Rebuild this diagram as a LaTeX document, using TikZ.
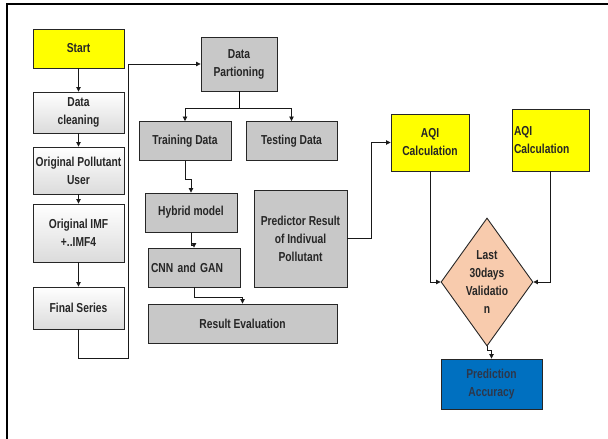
\documentclass[tikz,border=0pt]{standalone}
\usepackage{fontspec}
\setmainfont[FakeStretch=0.79]{Liberation Sans}
\usetikzlibrary{arrows.meta,shapes.geometric,calc}
\definecolor{startyellow}{RGB}{255,255,0}
\definecolor{midgray}{RGB}{200,200,200}
\definecolor{peach}{RGB}{248,203,173}
\definecolor{accblue}{RGB}{0,112,192}
\definecolor{acctext}{RGB}{45,55,75}
\tikzset{
  box/.style={draw=black!85, line width=0.9pt, inner sep=2pt, align=center,
    text=black!85, font=\bfseries\fontsize{13}{18}\selectfont},
  startbox/.style={box, fill=startyellow, minimum width=91, minimum height=39},
  leftbox/.style={box, top color=white, bottom color=black!14, minimum width=91},
  midbox/.style={box, fill=midgray, minimum height=39},
  aqibox/.style={box, fill=startyellow},
  decide/.style={diamond, draw=black!85, line width=0.9pt, fill=peach, inner sep=0pt,
    minimum width=92, minimum height=128},
  accbox/.style={box, fill=accblue, text=acctext, minimum width=101, minimum height=50},
  conn/.style={draw=black!90, line width=0.8pt, -{Triangle[length=4.5pt,width=4.5pt]}}
}
\begin{document}
\begin{tikzpicture}[x=1pt,y=-1pt]
    \useasboundingbox (0,0) rectangle (608,439);
    % frame
    \draw[line width=1.6pt] (7,439) -- (7,4) -- (608,4);
    % left column
    \node[startbox] (start) at (78.5,48.5) {Start};
    \node[leftbox, minimum height=41] (clean) at (78.5,112.5) {Data\\cleaning};
    \node[leftbox, minimum height=47] (pollut) at (78.5,170.5) {Original Pollutant\\User};
    \node[leftbox, minimum height=58] (imf) at (78.5,233) {Original IMF\\+..IMF4};
    \node[leftbox, minimum height=42] (final) at (78.5,308) {Final Series};
    % middle column
    \node[midbox, minimum width=76, minimum height=54] (part) at (239,64) {Data\\Partioning};
    \node[midbox, minimum width=92] (train) at (185,141) {Training Data};
    \node[midbox, minimum width=91] (test) at (291.5,141) {Testing Data};
    \node[midbox, minimum width=92] (hybrid) at (191,212.5) {Hybrid model};
    \node[midbox, text width=86, align=left, inner sep=3pt] (cnn) at (194,267.5) {CNN and GAN};
    \node[midbox, minimum width=189] (eval) at (242.5,323.5) {Result Evaluation};
    \node[midbox, minimum width=93, minimum height=97] (pred) at (300.5,238.5) {Predictor Result\\of Indivual\\Pollutant};
    % right column
    \node[aqibox, minimum width=78, minimum height=57] (aqia) at (430,142.5) {AQI\\Calculation};
    \node[aqibox, text width=73, align=left, minimum height=62] (aqib) at (550.5,140) {AQI\\Calculation};
    \node[decide, label={[box, draw=none, inner sep=0pt]center:Last\\30days\\Validatio\\n}] (valid) at (487,282) {};
    \node[accbox] (acc) at (491.5,384) {Prediction\\Accuracy};
    % connectors
    \draw[conn] (start) -- (clean);
    \draw[conn] (clean) -- (pollut);
    \draw[conn] (pollut) -- (imf);
    \draw[conn] (imf) -- (final);
    \coordinate (lowturn) at (128,358);
    \draw[conn] (final.south) |- (lowturn) |- (part.west);
    \draw (part.south) -- ++(0,17) coordinate (split);
    \draw[conn] (split) -| (train.north);
    \draw[conn] (split) -| (test.north);
    \draw[conn] (train.south) -- ++(0,18) -| (hybrid.north);
    \draw[conn] (hybrid.south) -- ++(0,13) -| (cnn.north);
    \draw[conn] (cnn.south) -- ++(0,10) -| (eval.north);
    \draw[conn] (pred.east) -- ++(24,0) |- (aqia.west);
    \draw[conn] (aqia.south) |- (valid.west);
    \draw[conn] (aqib.south) |- (valid.east);
    \draw[conn] (valid.south) -- ++(0,4) -| (acc.north);
\end{tikzpicture}
\end{document}
